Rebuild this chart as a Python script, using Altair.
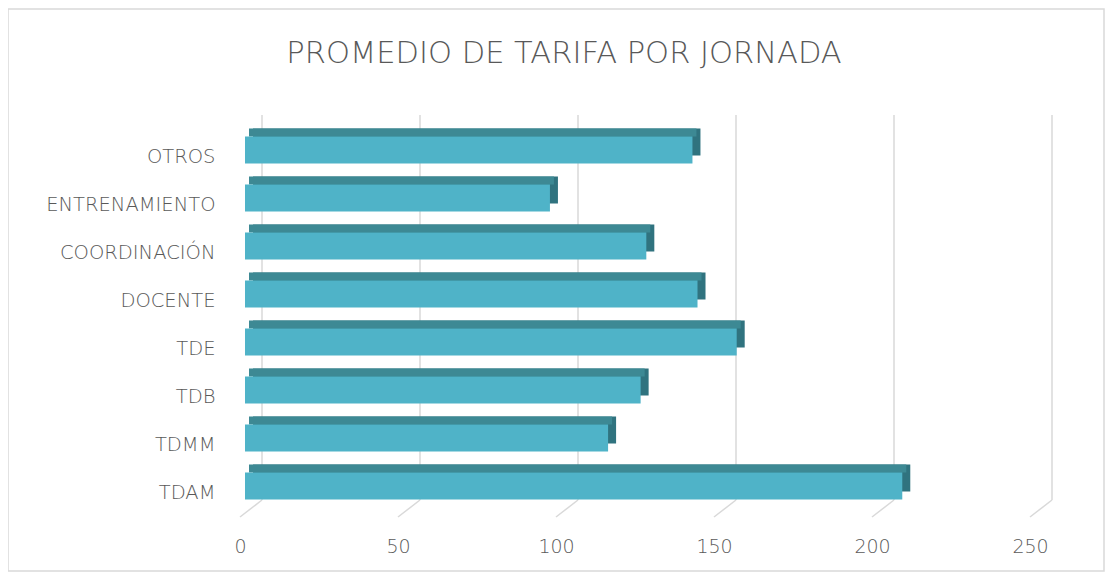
import altair as alt
import pandas as pd

categories = ["OTROS", "ENTRENAMIENTO", "COORDINACIÓN", "DOCENTE", "TDE", "TDB", "TDMM", "TDAM"]
values = [141.6, 96.5, 127.0, 143.2, 155.6, 125.2, 114.9, 208.0]
tick_values = [0, 50, 100, 150, 200, 250]
title_text = "PROMEDIO DE TARIFA POR JORNADA"

df = pd.DataFrame({"cat": categories, "v": values})
ticks = pd.DataFrame({"t": tick_values})

FONT = "DejaVu Sans"
TXT = "#595959"
GRID = "#d9d9d9"

xscale = alt.Scale(domain=[0, 250], nice=False, zero=True)
yscale = alt.Scale(domain=categories, paddingInner=0, paddingOuter=0)

xaxis = alt.Axis(values=tick_values, grid=False, domain=False, ticks=False,
                 labelPadding=20, labelFontSize=19, labelColor=TXT, labelFlush=False,
                 labelFont=FONT, labelFontWeight=200, title=None, zindex=1)
yaxis = alt.Axis(domain=False, ticks=False, grid=False, labelPadding=25,
                 labelFontSize=19.5, labelColor=TXT, labelFont=FONT,
                 labelFontWeight=200, title=None, zindex=1)

border = alt.Chart(alt.Data(values=[{}])).mark_rect(
    fillOpacity=0, stroke=GRID, strokeWidth=1.5
).encode(x=alt.value(-232), x2=alt.value(864), y=alt.value(-124), y2=alt.value(438))

title = alt.Chart(alt.Data(values=[{}])).mark_text(
    font=FONT, fontSize=30.5, fontWeight=200, color=TXT, align="center",
    baseline="alphabetic"
).encode(x=alt.value(324), y=alt.value(-70), text=alt.value(title_text))

grid = alt.Chart(ticks).mark_rule(color=GRID, strokeWidth=1.5, xOffset=22).encode(
    x=alt.X("t:Q", scale=xscale, axis=xaxis),
    y=alt.value(-18), y2=alt.value(367)
)

floor = alt.Chart(ticks).mark_rule(color=GRID, strokeWidth=1.5, x2Offset=22).encode(
    x=alt.X("t:Q", scale=xscale),
    x2="t:Q",
    y=alt.value(384), y2=alt.value(367)
)

side = alt.Chart(df).mark_bar(height=27, yOffset=-15, xOffset=13, x2Offset=13,
                              color="#30737f").encode(
    x=alt.X("v:Q", scale=xscale), x2=alt.datum(0),
    y=alt.Y("cat:N", scale=yscale, sort=categories, axis=yaxis)
)

top = alt.Chart(df).mark_bar(height=8, yOffset=-24.5, xOffset=9, x2Offset=9,
                             color="#3d8994").encode(
    x=alt.X("v:Q", scale=xscale), x2=alt.datum(0),
    y=alt.Y("cat:N", scale=yscale, sort=categories)
)

front = alt.Chart(df).mark_bar(height=27, yOffset=-7, xOffset=5, x2Offset=5,
                               color="#4fb3c8").encode(
    x=alt.X("v:Q", scale=xscale), x2=alt.datum(0),
    y=alt.Y("cat:N", scale=yscale, sort=categories)
)

chart = alt.layer(border, title, grid, floor, side, top, front).properties(
    width=790, height=384,
    background="white",
    autosize=alt.AutoSizeParams(type="none"),
    padding={"left": 232, "top": 125, "right": 75, "bottom": 56},
).configure_view(strokeWidth=0, stroke="transparent")

chart.save("out.html", embed_options={"renderer": "svg", "actions": False})
